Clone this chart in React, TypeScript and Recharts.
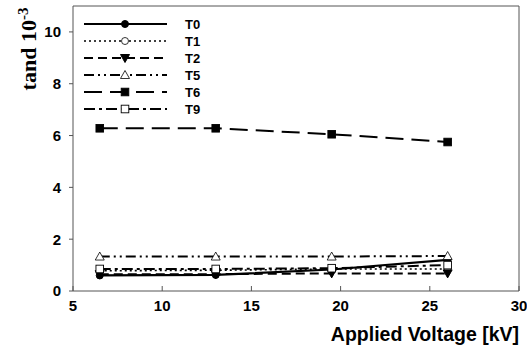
import { LineChart, Line, XAxis, YAxis, ReferenceLine } from "recharts";

const voltages = [6.5, 13, 19.5, 26];
const t0 = [0.6, 0.62, 0.83, 1.2];
const t1 = [0.78, 0.8, 0.85, 0.85];
const t2 = [0.65, 0.65, 0.68, 0.68];
const t5 = [1.33, 1.33, 1.33, 1.35];
const t6 = [6.28, 6.28, 6.05, 5.75];
const t9 = [0.85, 0.85, 0.88, 1.0];

const xTicks = [5, 10, 15, 20, 25, 30];
const yTicks = [0, 2, 4, 6, 8, 10];

type Shape = "circle" | "triangleDown" | "triangle" | "square";

const series: {
  key: string;
  values: number[];
  dash?: string;
  width: number;
  shape: Shape;
  filled: boolean;
}[] = [
  { key: "T0", values: t0, width: 2.2, shape: "circle", filled: true },
  { key: "T1", values: t1, dash: "2 3", width: 1.6, shape: "circle", filled: false },
  { key: "T2", values: t2, dash: "9 5", width: 2, shape: "triangleDown", filled: true },
  { key: "T5", values: t5, dash: "10 4 2 4 2 4", width: 2, shape: "triangle", filled: false },
  { key: "T6", values: t6, dash: "18 8", width: 2, shape: "square", filled: true },
  { key: "T9", values: t9, dash: "11 4 3 4", width: 2, shape: "square", filled: false },
];

const data = voltages.map((v, i) => {
  const row: Record<string, number> = { v };
  for (const s of series) row[s.key] = s.values[i];
  return row;
});

function Marker({ cx, cy, shape, filled }: { cx: number; cy: number; shape: Shape; filled: boolean }) {
  const fill = filled ? "#000" : "#fff";
  const stroke = "#000";
  if (shape === "circle")
    return <circle cx={cx} cy={cy} r={3.5} fill={fill} stroke={stroke} strokeWidth={filled ? 1 : 0.8} />;
  if (shape === "square")
    return <rect x={cx - 3.8} y={cy - 3.8} width={7.6} height={7.6} fill={fill} stroke={stroke} strokeWidth={0.9} />;
  if (shape === "triangle")
    return (
      <polygon
        points={`${cx},${cy - 4.5} ${cx - 4.5},${cy + 3.5} ${cx + 4.5},${cy + 3.5}`}
        fill={fill}
        stroke={stroke}
        strokeWidth={0.8}
      />
    );
  return (
    <polygon
      points={`${cx},${cy + 4.5} ${cx - 4.5},${cy - 3.5} ${cx + 4.5},${cy - 3.5}`}
      fill={fill}
      stroke={stroke}
      strokeWidth={1}
    />
  );
}

const tickFont = { fontFamily: "Arial, 'Liberation Sans', sans-serif", fontWeight: 700, fontSize: 15, fill: "#000" };

function XTick(props: any) {
  const { x, y, payload } = props;
  return (
    <g>
      <line x1={x} x2={x} y1={y - 2} y2={y - 7} stroke="#555" strokeWidth={1} />
      <text x={x} y={y + 18} textAnchor="middle" {...tickFont}>
        {payload.value}
      </text>
    </g>
  );
}

export default function App() {
  return (
    <div style={{ position: "absolute", left: 0, top: 0, width: 527, height: 352, background: "#fff" }}>
      <LineChart width={527} height={352} data={data} margin={{ top: 6, right: 8, bottom: 0, left: 0 }}>
        <XAxis
          dataKey="v"
          type="number"
          domain={[5, 30]}
          ticks={xTicks}
          height={61}
          stroke="#555"
          tickLine={false}
          tickSize={2}
          tickMargin={0}
          tick={<XTick />}
        />
        <YAxis
          type="number"
          domain={[0, 11]}
          ticks={yTicks}
          width={73}
          stroke="#555"
          tickSize={4}
          tickMargin={8}
          tick={tickFont}
        />
        <ReferenceLine y={11} stroke="#555" strokeWidth={1} />
        <ReferenceLine x={30} stroke="#555" strokeWidth={1} />
        {series.map((s) => (
          <Line
            key={s.key}
            dataKey={s.key}
            stroke="#000"
            strokeWidth={s.width}
            strokeDasharray={s.dash}
            isAnimationActive={false}
            dot={(p: any) => <Marker key={`${s.key}-${p.index}`} cx={p.cx} cy={p.cy} shape={s.shape} filled={s.filled} />}
            activeDot={false}
          />
        ))}
      </LineChart>
      <svg width={527} height={352} style={{ position: "absolute", left: 0, top: 0, pointerEvents: "none" }}>
        {series.map((s, i) => {
          const y = 24 + i * 17;
          return (
            <g key={s.key}>
              <line x1={84} x2={167} y1={y} y2={y} stroke="#000" strokeWidth={s.width} strokeDasharray={s.dash} />
              <Marker cx={125} cy={y} shape={s.shape} filled={s.filled} />
              <text x={185} y={y + 5} fontFamily="Arial, 'Liberation Sans', sans-serif" fontWeight={700} fontSize={13}>
                {s.key}
              </text>
            </g>
          );
        })}
        <text
          transform="translate(36,49) rotate(-90)"
          textAnchor="middle"
          fontFamily="'Liberation Serif', 'Times New Roman', serif"
          fontWeight={700}
          fontSize={22}
        >
          tand 10
          <tspan dy={-8} fontSize={15}>
            -3
          </tspan>
        </text>
        <text
          x={519}
          y={341}
          textAnchor="end"
          fontFamily="Arial, 'Liberation Sans', sans-serif"
          fontWeight={700}
          fontSize={19.5}
        >
          Applied Voltage [kV]
        </text>
      </svg>
    </div>
  );
}
